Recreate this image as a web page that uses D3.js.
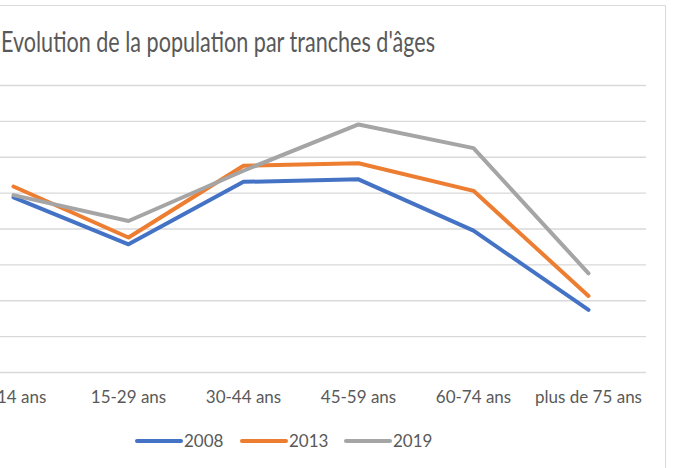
<!DOCTYPE html>
<html><head><meta charset="utf-8">
<script src="https://cdn.jsdelivr.net/npm/d3@7"></script>
<style>html,body{margin:0;padding:0;background:#fff;overflow:hidden}</style>
</head><body>
<svg id="c" width="676" height="468"></svg>
<script>
const categories = ["0-14 ans","15-29 ans","30-44 ans","45-59 ans","60-74 ans","plus de 75 ans"];
const series2008 = [487, 356, 530, 537, 394, 173];
const series2013 = [517, 375, 575, 582, 505, 212];
const series2019 = [493, 421, 561, 690, 624, 275];
const seriesNames = ["2008","2013","2019"];
const seriesColors = ["#4472C4","#ED7D31","#A5A5A5"];
const yTicks = [0,100,200,300,400,500,600,700,800];
const title = "Evolution de la population par tranches d'âges";

const svg = d3.select("#c");
const font = "Lato, 'Open Sans', sans-serif";
const textColor = "#595959";

// frame
svg.append("path").attr("d","M-1,5.5H665.5V469").attr("fill","none").attr("stroke","#D9D9D9").attr("stroke-width",1);

const x = d3.scaleBand().domain(categories).range([-44, 646]).padding(0);
const y = d3.scaleLinear().domain([0, 800]).range([372, 85]);

// gridlines
svg.append("g").attr("transform","translate(-44,0)")
  .call(d3.axisLeft(y).tickValues(yTicks).tickSize(-690).tickFormat(""))
  .call(g => g.select(".domain").remove())
  .call(g => g.selectAll(".tick line").attr("stroke","#D9D9D9").attr("stroke-width",1.3));

// x axis labels
svg.append("g").attr("transform","translate(0,372)")
  .call(d3.axisBottom(x).tickSize(0).tickPadding(19))
  .call(g => g.select(".domain").remove())
  .call(g => g.selectAll("text").attr("font-family",font).attr("font-size","17px").attr("fill",textColor));

// lines
const data = [series2008, series2013, series2019];
const line = d3.line().x((d,i)=>x(categories[i]) + x.bandwidth()/2).y(d=>y(d));
svg.append("g").selectAll("path").data(data).join("path")
  .attr("d", line).attr("fill","none")
  .attr("stroke",(d,i)=>seriesColors[i]).attr("stroke-width",4)
  .attr("stroke-linecap","round").attr("stroke-linejoin","round");

// title
svg.append("text").attr("x",1).attr("y",52).text(title)
  .attr("font-family",font).attr("font-size","28px").attr("fill",textColor)
  .attr("textLength",434).attr("lengthAdjust","spacingAndGlyphs");

// legend
const legX = [137, 242, 346];
const lg = svg.append("g").selectAll("g").data(seriesNames).join("g")
  .attr("transform",(d,i)=>`translate(${legX[i]},441)`);
lg.append("line").attr("x1",0).attr("x2",44).attr("stroke",(d,i)=>seriesColors[i])
  .attr("stroke-width",4).attr("stroke-linecap","round");
lg.append("text").attr("x",47).attr("y",6).text(d=>d)
  .attr("font-family",font).attr("font-size","17px").attr("fill",textColor);
</script>
</body></html>
